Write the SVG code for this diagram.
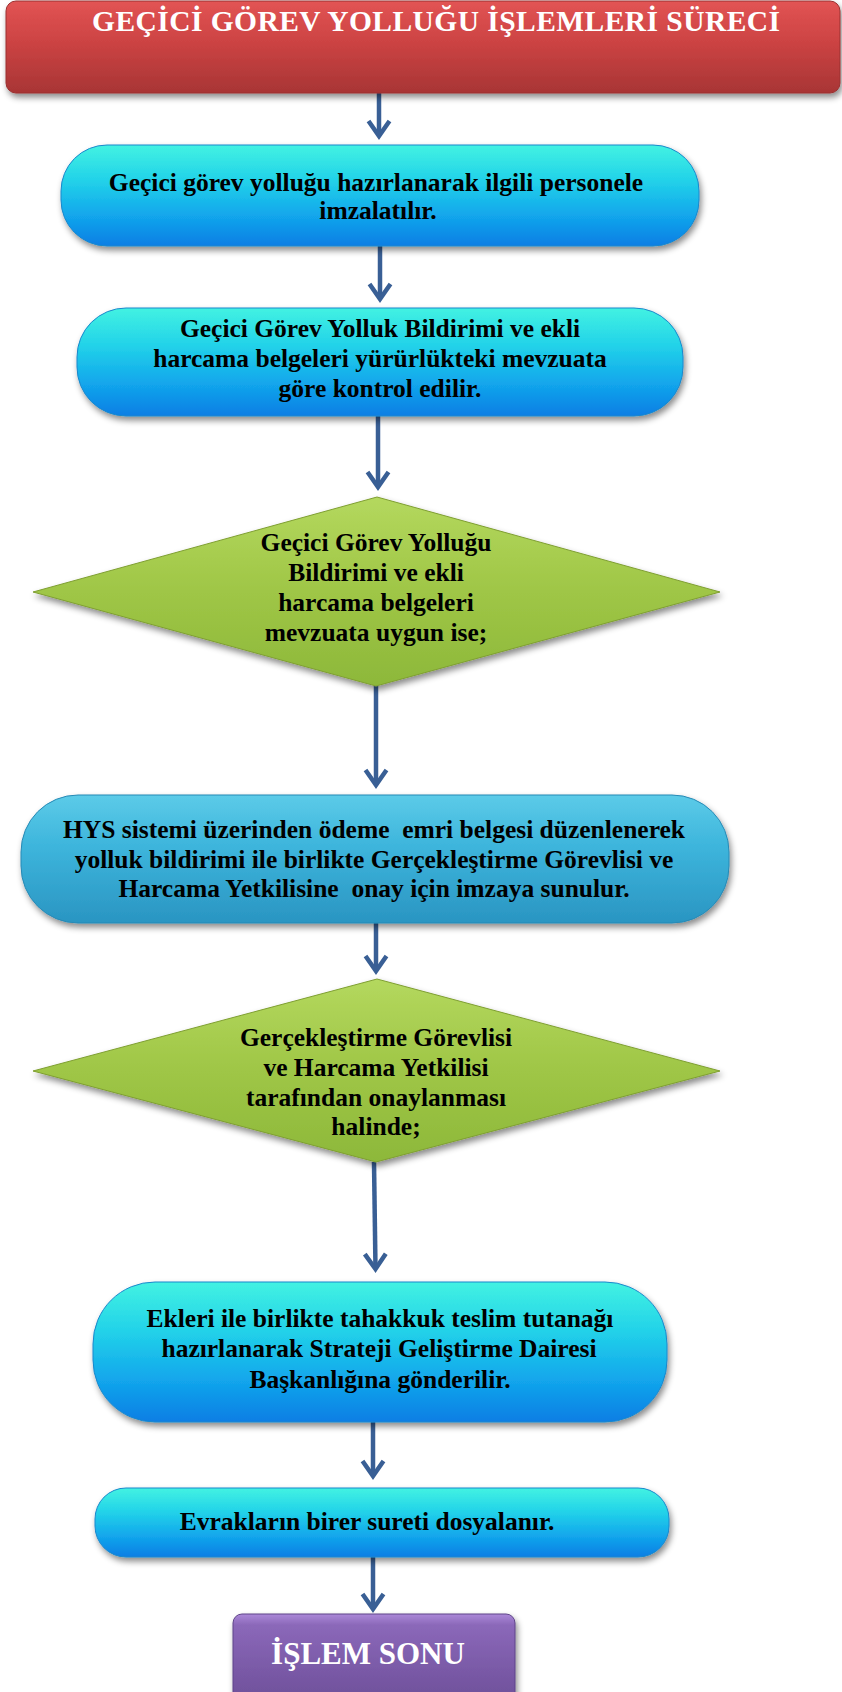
<svg xmlns="http://www.w3.org/2000/svg" width="842" height="1692" viewBox="0 0 842 1692">
  <style>
    .body { font-family: "Liberation Serif", "Times New Roman", serif; font-weight: bold; font-size: 25.5px; fill: #000; text-anchor: middle; }
    .light { font-family: "Liberation Serif", "Times New Roman", serif; font-weight: bold; fill: #fff; text-anchor: middle; }
    .link { fill: none; stroke: #395f95; stroke-width: 4.5; marker-end: url(#head); }
    .pill { fill: url(#cyanGrad); stroke: #1a88cc; stroke-width: 1; filter: url(#shade); }
    .diamond { fill: url(#greenGrad); stroke: #7f9f32; stroke-width: 1; filter: url(#shade); }
  </style>
  <defs>
    <linearGradient id="redGrad" x1="0" y1="0" x2="0" y2="1">
      <stop offset="0" stop-color="#e25454"/>
      <stop offset="0.45" stop-color="#cc4343"/>
      <stop offset="1" stop-color="#a83535"/>
    </linearGradient>
    <linearGradient id="cyanGrad" x1="0" y1="0" x2="0" y2="1">
      <stop offset="0" stop-color="#42f2e2"/>
      <stop offset="0.35" stop-color="#22d2e9"/>
      <stop offset="0.7" stop-color="#12a6ec"/>
      <stop offset="1" stop-color="#0b7ee4"/>
    </linearGradient>
    <linearGradient id="tealGrad" x1="0" y1="0" x2="0" y2="1">
      <stop offset="0" stop-color="#5ccbe8"/>
      <stop offset="0.4" stop-color="#3db5dc"/>
      <stop offset="1" stop-color="#2a95c2"/>
    </linearGradient>
    <linearGradient id="greenGrad" x1="0" y1="0" x2="0" y2="1">
      <stop offset="0" stop-color="#b4d85e"/>
      <stop offset="0.5" stop-color="#9fc646"/>
      <stop offset="1" stop-color="#8db83a"/>
    </linearGradient>
    <linearGradient id="purpleGrad" x1="0" y1="0" x2="0" y2="1">
      <stop offset="0" stop-color="#ab88d8"/>
      <stop offset="0.12" stop-color="#8b68b9"/>
      <stop offset="1" stop-color="#6c4e98"/>
    </linearGradient>
    <filter id="shade" x="-10%" y="-20%" width="120%" height="150%">
      <feDropShadow dx="2" dy="4" stdDeviation="3" flood-color="#000" flood-opacity="0.45"/>
    </filter>
    <marker id="head" viewBox="-18 -13 22 26" refX="0" refY="0" markerWidth="22" markerHeight="26" markerUnits="userSpaceOnUse" orient="auto">
      <path d="M-15,-10.5 L0,0 L-15,10.5" fill="none" stroke="#395f95" stroke-width="4.5"/>
    </marker>
  </defs>

  <!-- connectors -->
  <g id="connectors">
    <path class="link" d="M379,93 L379,136"/>
    <path class="link" d="M380,246 L380,299"/>
    <path class="link" d="M378,416 L378,487"/>
    <path class="link" d="M376,686 L376,785"/>
    <path class="link" d="M376,923 L376,971"/>
    <path class="link" d="M374,1162 L375.5,1269"/>
    <path class="link" d="M373,1422 L373,1476"/>
    <path class="link" d="M373,1557 L373,1609"/>
  </g>

  <!-- title -->
  <g id="title">
    <rect x="6" y="1" width="834" height="92" rx="10" fill="url(#redGrad)" stroke="#9a3030" stroke-width="1" filter="url(#shade)"/>
    <text class="light" x="436" y="31" font-size="29.5" textLength="688" lengthAdjust="spacing">GEÇİCİ GÖREV YOLLUĞU İŞLEMLERİ SÜRECİ</text>
  </g>

  <!-- step 1 -->
  <g id="step1">
    <rect class="pill" x="61" y="145" width="638" height="101" rx="46"/>
    <text class="body" x="376" y="191">Geçici görev yolluğu hazırlanarak ilgili personele</text>
    <text class="body" x="378" y="219">imzalatılır.</text>
  </g>

  <!-- step 2 -->
  <g id="step2">
    <rect class="pill" x="77" y="308" width="606" height="108" rx="49"/>
    <text class="body" x="380" y="337">Geçici Görev Yolluk Bildirimi ve ekli</text>
    <text class="body" x="380" y="367">harcama belgeleri yürürlükteki mevzuata</text>
    <text class="body" x="380" y="397">göre kontrol edilir.</text>
  </g>

  <!-- decision 1 -->
  <g id="decision1">
    <polygon class="diamond" points="377,497 720,592 376,686 33,592"/>
    <text class="body" x="376" y="551">Geçici Görev Yolluğu</text>
    <text class="body" x="376" y="581">Bildirimi ve ekli</text>
    <text class="body" x="376" y="611">harcama belgeleri</text>
    <text class="body" x="376" y="641">mevzuata uygun ise;</text>
  </g>

  <!-- step 3 -->
  <g id="step3">
    <rect x="21" y="795" width="708" height="128" rx="57" fill="url(#tealGrad)" stroke="#2789b5" stroke-width="1" filter="url(#shade)"/>
    <text class="body" x="374" y="838" xml:space="preserve">HYS sistemi üzerinden ödeme  emri belgesi düzenlenerek</text>
    <text class="body" x="374" y="868">yolluk bildirimi ile birlikte Gerçekleştirme Görevlisi ve</text>
    <text class="body" x="374" y="897" xml:space="preserve">Harcama Yetkilisine  onay için imzaya sunulur.</text>
  </g>

  <!-- decision 2 -->
  <g id="decision2">
    <polygon class="diamond" points="377,979 720,1071 376,1162 33,1071"/>
    <text class="body" x="376" y="1046">Gerçekleştirme Görevlisi</text>
    <text class="body" x="376" y="1076">ve Harcama Yetkilisi</text>
    <text class="body" x="376" y="1106">tarafından onaylanması</text>
    <text class="body" x="376" y="1135">halinde;</text>
  </g>

  <!-- step 4 -->
  <g id="step4">
    <rect class="pill" x="93" y="1282" width="574" height="140" rx="62"/>
    <text class="body" x="380" y="1327">Ekleri ile birlikte tahakkuk teslim tutanağı</text>
    <text class="body" x="379" y="1357">hazırlanarak Strateji Geliştirme Dairesi</text>
    <text class="body" x="380" y="1388">Başkanlığına gönderilir.</text>
  </g>

  <!-- step 5 -->
  <g id="step5">
    <rect class="pill" x="95" y="1488" width="574" height="69" rx="31"/>
    <text class="body" x="367" y="1530">Evrakların birer sureti dosyalanır.</text>
  </g>

  <!-- end -->
  <g id="end">
    <rect x="233" y="1614" width="282" height="92" rx="9" fill="url(#purpleGrad)" stroke="#5e4488" stroke-width="1" filter="url(#shade)"/>
    <text class="light" x="368" y="1664" font-size="31">İŞLEM SONU</text>
  </g>
</svg>
